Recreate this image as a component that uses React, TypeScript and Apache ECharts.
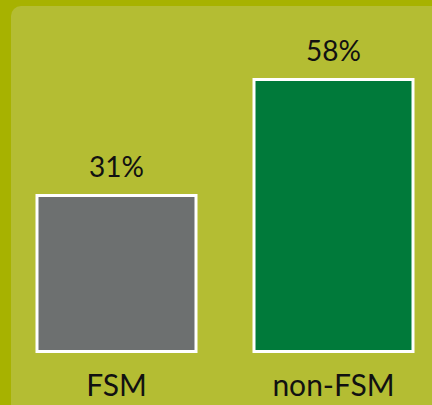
import React, { useEffect, useRef } from "react";
import * as echarts from "echarts";

const categories = ["FSM", "non-FSM"];
const values = [31, 58];
const barColors = ["#6d7070", "#007a3a"];

export default function App() {
  const ref = useRef<HTMLDivElement>(null);
  useEffect(() => {
    const chart = echarts.init(ref.current!, null, { renderer: "svg" });
    chart.setOption({
      animation: false,
      backgroundColor: "#a7b200",
      graphic: [
        {
          type: "rect",
          z: -10,
          shape: { x: 11, y: 6, width: 432, height: 420, r: 10 },
          style: { fill: "#b4bd33" },
          silent: true,
        },
      ],
      grid: {
        left: 8,
        width: 434,
        top: 78,
        height: 275,
        outerBoundsMode: "none",
        containLabel: false,
      },
      xAxis: {
        type: "category",
        data: categories,
        axisLine: { show: false },
        axisTick: { show: false },
        axisLabel: {
          margin: 16,
          fontFamily: "Lato",
          fontSize: 30,
          color: "#111",
        },
      },
      yAxis: {
        type: "value",
        min: -6,
        max: 58,
        startValue: -6,
        show: false,
        splitLine: { show: false },
      },
      series: [
        {
          type: "bar",
          data: values.map((v, i) => ({
            value: v,
            itemStyle: { color: barColors[i] },
          })),
          barWidth: 162,
          itemStyle: { borderColor: "#ffffff", borderWidth: 3 },
          label: {
            show: true,
            position: "top",
            distance: 14,
            formatter: "{c}%",
            fontFamily: "Lato",
            fontSize: 28,
            color: "#111",
          },
        },
      ],
    });
    return () => chart.dispose();
  }, []);
  return (
    <div
      ref={ref}
      style={{ position: "fixed", left: 0, top: 0, width: 432, height: 405 }}
    />
  );
}
